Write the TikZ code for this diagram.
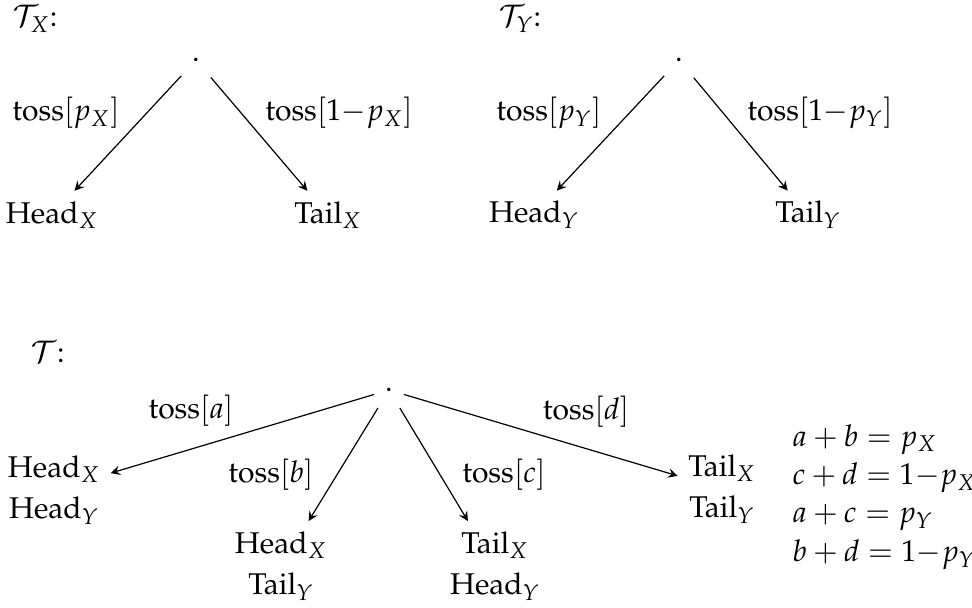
\documentclass[tikz,border=0pt]{standalone}
\usepackage[T1]{fontenc}
\usepackage{mathpazo}
\usepackage{tikz}

\begin{document}
\begin{tikzpicture}[x=0.3333pt, y=-0.3333pt,
	root/.style={inner xsep=3.5pt, inner ysep=5.2pt},
	leaf/.style={align=center},
	edge/.style={-stealth}]
	%%%%% START %%%%%
	\useasboundingbox (0,0) rectangle (972,607);
	
	%%%%% T_X %%%%%
	\node (tx) at (35,19) {$\mathcal{T}_X$:};
	\node[root] (rx) at (196,60) {.};
	\node (hx) at (52,215) {Head$_X$};
	\node (tlx) at (328,215) {Tail$_X$};
	\node (px) at (66,113) {toss$[p_X]$};
	\node (qx) at (339,113) {toss$[1{-}p_X]$};
	\draw[edge] (rx) -- (hx);
	\draw[edge] (rx) -- (tlx);
	
	%%%%% T_Y %%%%%
	\node (ty) at (520,19) {$\mathcal{T}_Y$:};
	\node[root] (ry) at (679,60) {.};
	\node (hy) at (534,215) {Head$_Y$};
	\node (tly) at (808,215) {Tail$_Y$};
	\node (py) at (549,113) {toss$[p_Y]$};
	\node (qy) at (820,113) {toss$[1{-}p_Y]$};
	\draw[edge] (ry) -- (hy);
	\draw[edge] (ry) -- (tly);
	
	%%%%% T %%%%%
	\node (t) at (48,352) {$\mathcal{T}$:};
	\node[root] (r) at (389,390) {.};
	\node[leaf] (hh) at (54,490) {Head$_X$\\[1.7pt]Head$_Y$};
	\node[leaf] (ht) at (281,566) {Head$_X$\\[1.7pt]Tail$_Y$};
	\node[leaf] (th) at (495,566) {Tail$_X$\\[1.7pt]Head$_Y$};
	\node[leaf] (tt) at (722,489) {Tail$_X$\\[1.7pt]Tail$_Y$};
	\node (la) at (191,411) {toss$[a]$};
	\node (lb) at (271,475) {toss$[b]$};
	\node (lc) at (504,475) {toss$[c]$};
	\node (ld) at (586,412) {toss$[d]$};
	\draw[edge] (r) -- (hh);
	\draw[edge] (r) -- (ht);
	\draw[edge] (r) -- (th);
	\draw[edge] (r) -- (tt);
	
	\node[anchor=west, align=left] (eq) at (782,497) {$a+b = p_X$\\[0.8pt]$c+d = 1{-}p_X$\\[0.8pt]$a+c = p_Y$\\[0.8pt]$b+d = 1{-}p_Y$};
	
	%%%%% END %%%%%
\end{tikzpicture}
\end{document}
